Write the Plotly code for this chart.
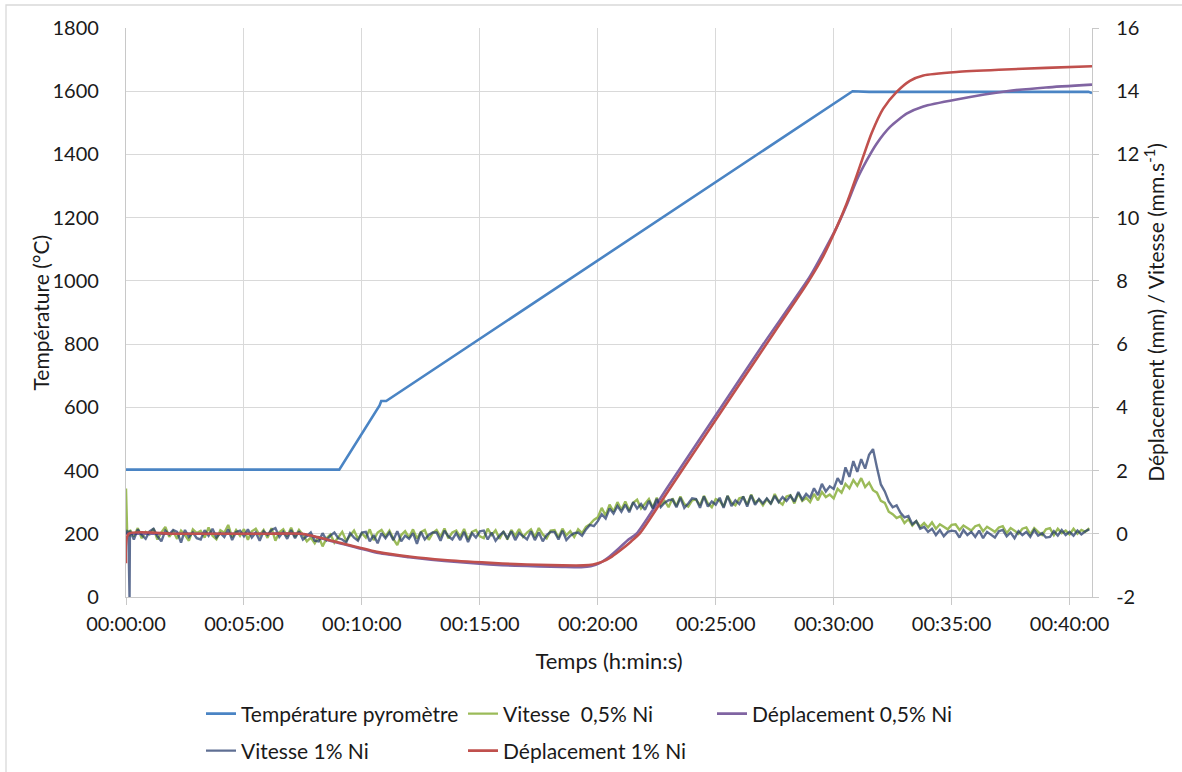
import plotly.graph_objects as go

# ---------------- data ----------------
X_TICK_MIN = [0, 5, 10, 15, 20, 25, 30, 35, 40]
X_TICK_TEXT = ["00:00:00", "00:05:00", "00:10:00", "00:15:00", "00:20:00",
               "00:25:00", "00:30:00", "00:35:00", "00:40:00"]
X_RANGE_MIN = [0, 40.95]
Y_LEFT_TICKS = [0, 200, 400, 600, 800, 1000, 1200, 1400, 1600, 1800]
Y_RIGHT_TICKS = [-2, 0, 2, 4, 6, 8, 10, 12, 14, 16]
Y_RIGHT_TEXT = ["-2", "0", "2", "4", "6", "8", "10", "12", "14", "16"]

# Temperature (left axis)
TEMP_TIME_MIN = [0, 9.04, 10.75, 10.82, 11.03, 30.8, 31.5, 35.0, 40.0, 40.8, 40.95]
TEMP_C = [403, 403, 606, 620, 620, 1600, 1598, 1598, 1598, 1598, 1594]

# Displacement 0,5% Ni (right axis)
DEP05_TIME_MIN = [0, 0.1, 2.0, 4.0, 6.0, 7.4, 8.9, 10.7, 12.0, 13.5, 15.4, 16.5, 17.5,
                  18.5, 19.3, 19.7, 20.1, 20.5, 20.9, 21.3, 21.64, 23.0, 25.0, 27.0,
                  29.0, 29.6, 30.13, 30.55, 30.97, 31.4, 31.82, 32.39, 33.09, 33.8,
                  35.21, 37.33, 39.0, 40.95]
DEP05_MM = [0.0, 0.0, 0.0, 0.0, 0.0, 0.0, -0.27, -0.61, -0.74, -0.86, -0.97, -1.01, -1.03,
            -1.05, -1.06, -1.03, -0.92, -0.72, -0.46, -0.18, 0.0, 1.52, 3.75, 5.98,
            8.15, 8.95, 9.70, 10.40, 11.18, 11.81, 12.34, 12.87, 13.29, 13.52,
            13.74, 14.0, 14.12, 14.21]

# Displacement 1% Ni (right axis)
DEP1_TIME_MIN = [0, 0.11, 2.0, 4.0, 6.0, 7.46, 8.94, 10.7, 12.0, 13.5, 15.44, 16.5, 17.5,
                 18.5, 19.4, 19.8, 20.2, 20.6, 21.0, 21.4, 21.79, 23.0, 24.47, 26.0,
                 27.5, 28.92, 29.5, 30.13, 30.55, 30.97, 31.25, 31.61, 32.10, 32.67,
                 33.23, 33.80, 35.21, 37.0, 39.0, 40.95]
DEP1_MM = [-0.93, 0.0, 0.0, 0.0, 0.0, 0.0, -0.26, -0.58, -0.72, -0.83, -0.92, -0.96, -0.98,
           -1.0, -1.0, -0.97, -0.88, -0.72, -0.5, -0.25, 0.02, 1.37, 3.01, 4.72,
           6.39, 7.97, 8.7, 9.70, 10.45, 11.32, 11.93, 12.68, 13.45, 13.98,
           14.33, 14.50, 14.61, 14.68, 14.74, 14.79]

# Speeds: first samples at 0,3,6,9 s, then one sample every 10 s
VIT_HEAD_TIME_S = [0, 3, 6, 9]
VIT_STEP_S = 10
VIT_LAST_S = 2450

VIT05_MM_S = [
    1.43, 0.02, 0.10, -0.08,
    0.12, -0.08, 0.18, -0.14, 0.06, -0.02,
    0.16, -0.18, 0.04, 0.22, -0.10, 0.08,
    -0.16, 0.10, -0.04, -0.22, 0.14, 0.02,
    0.09, -0.12, 0.20, -0.06, -0.17, 0.11,
    0.03, 0.28, -0.11, 0.12, -0.06, 0.15,
    -0.19, 0.08, 0.16, -0.04, 0.12, -0.13,
    0.18, -0.22, 0.05, 0.14, -0.08, 0.19,
    -0.10, 0.12, -0.03, -0.24, -0.12, -0.30,
    -0.08, -0.40, -0.14, -0.02, -0.28, -0.10,
    0.06, -0.22, -0.05, 0.10, -0.16, 0.02,
    -0.12, 0.14, -0.20, 0.04, 0.12, -0.08,
    0.10, -0.16, -0.36, -0.04, 0.08, -0.12,
    0.14, -0.15, 0.05, 0.12, -0.19, 0.02,
    0.12, -0.10, 0.17, -0.14, 0.04, 0.10,
    -0.10, 0.15, -0.18, 0.06, 0.12, -0.08,
    -0.14, 0.16, -0.04, 0.11, -0.16, 0.08,
    -0.18, 0.12, -0.06, 0.15, -0.10, 0.04,
    0.14, -0.11, 0.18, -0.02, -0.14, 0.10,
    0.12, -0.12, 0.16, -0.05, 0.08, -0.10,
    0.14, 0.02, 0.22, 0.30, 0.44, 0.52,
    0.82, 0.58, 0.92, 0.70, 1.00, 0.76,
    1.02, 0.74, 0.98, 1.08, 0.80, 0.96,
    1.10, 0.82, 1.14, 0.90, 1.04, 0.84,
    1.12, 0.88, 1.18, 0.94, 0.86, 1.06,
    1.08, 0.90, 1.20, 0.96, 0.84, 1.10,
    1.04, 0.86, 1.20, 0.98, 0.90, 1.12,
    1.16, 0.92, 1.24, 0.98, 1.08, 0.90,
    1.10, 0.94, 1.26, 1.02, 0.92, 1.18,
    1.22, 0.96, 1.28, 1.04, 1.14, 1.00,
    1.26, 1.06, 1.32, 1.16, 1.24, 1.12,
    1.42, 1.30, 1.58, 1.44, 1.70, 1.52,
    1.76, 1.48, 1.62, 1.38, 1.30, 1.04,
    0.98, 0.70, 0.62, 0.50, 0.56, 0.34,
    0.46, 0.26, 0.40, 0.22, 0.34, 0.20,
    0.36, 0.16, 0.30, 0.22, 0.14, 0.28,
    0.30, 0.12, 0.26, 0.18, 0.10, 0.24,
    0.28, 0.08, 0.22, 0.14, 0.06, 0.20,
    0.24, 0.02, 0.18, 0.10, 0.00, 0.16,
    0.20, -0.02, 0.18, 0.06, -0.04, 0.14,
    0.18, -0.04, 0.16, 0.02, 0.10, -0.02,
    0.16, 0.00, 0.12, 0.06, 0.18,
]

VIT1_MM_S = [
    0.00, 0.08, 0.04, -2.0,
    0.10, -0.18, 0.14, -0.04, -0.16, 0.08,
    0.16, -0.08, -0.24, 0.10, -0.02, 0.12,
    0.06, -0.28, 0.12, -0.10, 0.04, -0.14,
    -0.18, 0.11, -0.06, 0.16, -0.12, 0.02,
    -0.10, 0.14, -0.20, 0.06, 0.10, -0.08,
    0.14, -0.12, 0.04, -0.22, 0.08, -0.04,
    0.12, 0.18, -0.10, 0.06, -0.16, 0.12,
    -0.14, 0.08, -0.18, -0.06, 0.04, -0.22,
    -0.24, 0.02, -0.20, -0.06, 0.04, -0.14,
    -0.18, -0.28, 0.02, -0.12, -0.22, 0.04,
    0.06, -0.24, -0.04, -0.30, 0.02, -0.14,
    0.04, -0.20, 0.08, -0.24, -0.06, -0.16,
    0.02, -0.32, 0.06, -0.18, -0.04, 0.04,
    0.04, -0.22, 0.10, -0.08, -0.18, 0.02,
    -0.20, 0.06, -0.26, 0.02, -0.12, 0.08,
    0.10, -0.18, 0.04, -0.22, -0.06, 0.06,
    -0.14, 0.08, -0.20, 0.02, -0.08, -0.18,
    0.08, -0.20, 0.04, -0.24, -0.04, 0.06,
    0.06, -0.18, 0.10, -0.20, -0.06, 0.02,
    0.04, -0.06, 0.14, 0.28, 0.24, 0.40,
    0.62, 0.48, 0.80, 0.64, 0.88, 0.70,
    0.92, 0.68, 1.00, 0.80, 0.94, 0.76,
    1.04, 0.80, 1.10, 0.84, 0.98, 1.06,
    1.08, 0.84, 1.14, 0.82, 0.96, 1.12,
    1.10, 0.82, 1.18, 0.86, 1.02, 0.92,
    1.14, 0.82, 1.20, 0.88, 1.06, 0.94,
    1.18, 0.86, 1.22, 0.92, 1.10, 0.96,
    1.12, 0.96, 1.20, 1.00, 1.16, 1.04,
    1.20, 1.02, 1.32, 1.08, 1.26, 1.14,
    1.44, 1.22, 1.58, 1.34, 1.50, 1.42,
    1.76, 1.56, 2.10, 1.80, 2.30, 1.96,
    2.36, 2.06, 2.50, 2.68, 2.10, 1.56,
    1.34, 1.02, 0.84, 0.90, 0.66, 0.52,
    0.56, 0.30, 0.40, 0.16, 0.22, 0.06,
    0.16, -0.04, 0.12, -0.08, 0.06, 0.10,
    0.08, -0.12, 0.12, -0.04, 0.06, -0.10,
    0.10, -0.14, 0.06, -0.02, -0.12, 0.08,
    0.12, -0.08, 0.04, -0.14, 0.08, -0.04,
    0.06, -0.10, 0.12, -0.06, 0.02, -0.12,
    -0.10, 0.08, -0.06, 0.12, -0.04, 0.06,
    -0.06, 0.10, -0.02, 0.08, 0.14,
]

VIT_TIME_MIN = [s / 60 for s in VIT_HEAD_TIME_S] + \
    [s / 60 for s in range(VIT_STEP_S, VIT_LAST_S + 1, VIT_STEP_S)]
assert len(VIT_TIME_MIN) == len(VIT05_MM_S) == len(VIT1_MM_S)

# ---------------- style ----------------
FONT = "Lato, Calibri, 'Open Sans', sans-serif"
FS = 21      # titles / legend
FT = 20      # tick labels
TXT = "#1a1a1a"
GRID = "#d9d9d9"
AXL = "#c8c8c8"
C_TEMP = "#4A84C4"
C_V05 = "#9BBB59"
C_D05 = "#8064A2"
C_V1 = "rgba(33,55,105,0.72)"
C_D1 = "#C0504D"

W, H = 1182, 772
PL, PR, PT, PB = 126, 1092, 28, 597

# legend slots (one legend per entry, placed in Excel's grid)
LEG_X = [201, 463, 712, 201, 463]
LEG_Y = [714, 714, 714, 751, 751]

fig = go.Figure()
fig.add_trace(go.Scatter(x=TEMP_TIME_MIN, y=TEMP_C, mode="lines",
                         name="Température pyromètre",
                         line=dict(color=C_TEMP, width=2.6), yaxis="y",
                         legend="legend"))
fig.add_trace(go.Scatter(x=VIT_TIME_MIN, y=VIT05_MM_S, mode="lines",
                         name="Vitesse\u00a0 0,5% Ni",
                         line=dict(color=C_V05, width=2.4), yaxis="y2",
                         legend="legend2"))
fig.add_trace(go.Scatter(x=DEP05_TIME_MIN, y=DEP05_MM, mode="lines",
                         name="Déplacement 0,5% Ni",
                         line=dict(color=C_D05, width=2.6, shape="spline", smoothing=0.6),
                         yaxis="y2", legend="legend3"))
fig.add_trace(go.Scatter(x=VIT_TIME_MIN, y=VIT1_MM_S, mode="lines",
                         name="Vitesse 1% Ni",
                         line=dict(color=C_V1, width=2.4), yaxis="y2",
                         legend="legend4"))
fig.add_trace(go.Scatter(x=DEP1_TIME_MIN, y=DEP1_MM, mode="lines",
                         name="Déplacement 1% Ni",
                         line=dict(color=C_D1, width=2.6, shape="spline", smoothing=0.6),
                         yaxis="y2", legend="legend5"))


def leg(i):
    return dict(orientation="h", xref="container", yref="container",
                xanchor="left", yanchor="middle",
                x=LEG_X[i] / W, y=1 - LEG_Y[i] / H,
                bgcolor="rgba(0,0,0,0)", borderwidth=0,
                font=dict(family=FONT, size=FS, color=TXT))


fig.update_layout(
    width=W, height=H,
    margin=dict(l=PL, r=W - PR, t=PT, b=H - PB, pad=0),
    paper_bgcolor="white", plot_bgcolor="white",
    font=dict(family=FONT, size=FS, color=TXT),
    showlegend=True,
    legend=leg(0), legend2=leg(1), legend3=leg(2), legend4=leg(3), legend5=leg(4),
    xaxis=dict(range=X_RANGE_MIN, tickvals=X_TICK_MIN, ticktext=X_TICK_TEXT,
               showgrid=True, gridcolor=GRID, gridwidth=1.3,
               showline=True, linecolor=AXL, linewidth=1.3,
               ticks="outside", ticklen=7, tickcolor=AXL, tickwidth=1.3,
               ticklabelstandoff=2, zeroline=False, automargin=False,
               tickfont=dict(family=FONT, size=FT, color=TXT),
               title=dict(text="Temps (h:min:s)", standoff=19,
                          font=dict(family=FONT, size=22, color=TXT))),
    yaxis=dict(range=[0, 1800], tickvals=Y_LEFT_TICKS,
               showgrid=True, gridcolor=GRID, gridwidth=1.3,
               showline=True, linecolor=AXL, linewidth=1.3,
               ticks="", ticklabelstandoff=22, zeroline=False, automargin=False,
               tickfont=dict(family=FONT, size=FT, color=TXT)),
    yaxis2=dict(range=[-2, 16], tickvals=Y_RIGHT_TICKS, ticktext=Y_RIGHT_TEXT,
                overlaying="y", side="right", showgrid=False,
                showline=True, linecolor=AXL, linewidth=1.3,
                ticks="outside", ticklen=6, tickcolor=AXL, tickwidth=1.3,
                ticklabelstandoff=13, zeroline=False, automargin=False,
                tickfont=dict(family=FONT, size=FT, color=TXT),
                title=dict(text="Déplacement (mm) / Vitesse (mm.s<sup>-1</sup>)",
                           standoff=10, font=dict(family=FONT, size=FS, color=TXT))),
    annotations=[dict(text="Température (°C)", xref="paper", yref="paper",
                      x=(40 - PL) / (PR - PL), y=0.5, xanchor="center", yanchor="middle",
                      textangle=-90, showarrow=False,
                      font=dict(family=FONT, size=FS, color=TXT))],
    shapes=[dict(type="rect", xref="paper", yref="paper",
                 x0=(6 - PL) / (PR - PL), x1=1.2, y0=-0.4, y1=(PB - 5) / (PB - PT),
                 line=dict(color="#d9d9d9", width=1.3), fillcolor="rgba(0,0,0,0)",
                 layer="below")],
)

fig.write_html("out.html", include_plotlyjs=True, config={"displayModeBar": False},
               post_script="document.body.style.margin='0';")
